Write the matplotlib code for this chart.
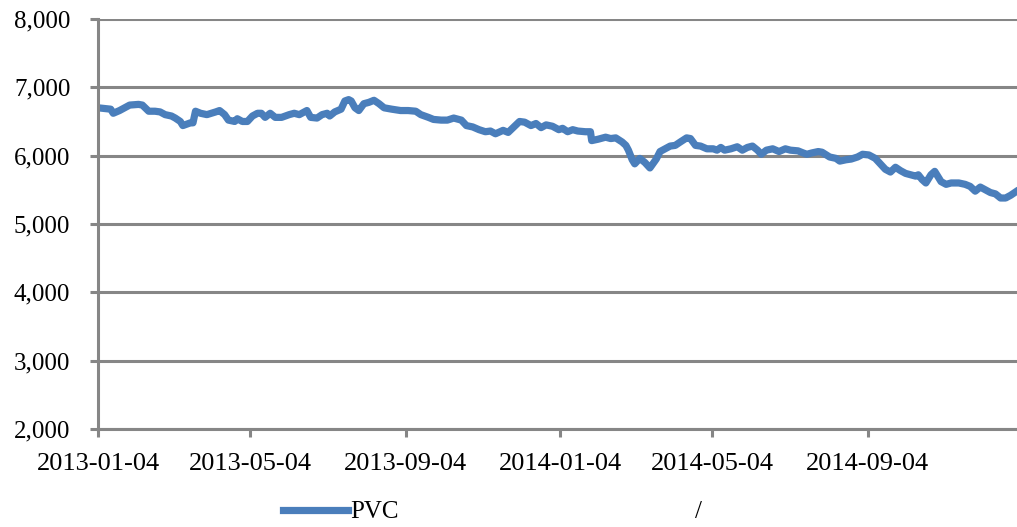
import numpy as np
import pandas as pd
import matplotlib
matplotlib.use("Agg")
import matplotlib.pyplot as plt
import matplotlib.dates as mdates
from matplotlib.ticker import FuncFormatter, MultipleLocator

plt.rcParams['font.family'] = ['Liberation Serif', 'DejaVu Serif']

dates = ['2013-01-04', '2013-01-14', '2013-01-16', '2013-01-21', '2013-01-25', '2013-01-29',
         '2013-02-05', '2013-02-08', '2013-02-13', '2013-02-18', '2013-02-22', '2013-02-26',
         '2013-03-03', '2013-03-06', '2013-03-10', '2013-03-12', '2013-03-18', '2013-03-20',
         '2013-03-22', '2013-03-26', '2013-03-31', '2013-04-07', '2013-04-10', '2013-04-14',
         '2013-04-17', '2013-04-22', '2013-04-24', '2013-04-28', '2013-05-02', '2013-05-06',
         '2013-05-10', '2013-05-13', '2013-05-16', '2013-05-20', '2013-05-24', '2013-05-29',
         '2013-06-04', '2013-06-08', '2013-06-12', '2013-06-16', '2013-06-18', '2013-06-21',
         '2013-06-26', '2013-06-30', '2013-07-04', '2013-07-06', '2013-07-10', '2013-07-15',
         '2013-07-18', '2013-07-21', '2013-07-23', '2013-07-26', '2013-07-29', '2013-08-02',
         '2013-08-06', '2013-08-10', '2013-08-14', '2013-08-18', '2013-08-24', '2013-08-31',
         '2013-09-06', '2013-09-12', '2013-09-16', '2013-09-22', '2013-09-26', '2013-10-02',
         '2013-10-07', '2013-10-12', '2013-10-18', '2013-10-22', '2013-10-27', '2013-11-01',
         '2013-11-06', '2013-11-10', '2013-11-14', '2013-11-20', '2013-11-24', '2013-12-03',
         '2013-12-07', '2013-12-12', '2013-12-16', '2013-12-20', '2013-12-24', '2013-12-29',
         '2014-01-03', '2014-01-06', '2014-01-10', '2014-01-14', '2014-01-18', '2014-01-24',
         '2014-01-28', '2014-01-29', '2014-02-03', '2014-02-09', '2014-02-13', '2014-02-17',
         '2014-02-22', '2014-02-25', '2014-02-27', '2014-03-02', '2014-03-04', '2014-03-08',
         '2014-03-12', '2014-03-16', '2014-03-21', '2014-03-24', '2014-03-28', '2014-04-01',
         '2014-04-05', '2014-04-09', '2014-04-14', '2014-04-17', '2014-04-21', '2014-04-25',
         '2014-04-30', '2014-05-05', '2014-05-08', '2014-05-11', '2014-05-14', '2014-05-19',
         '2014-05-24', '2014-05-28', '2014-06-01', '2014-06-05', '2014-06-09', '2014-06-12',
         '2014-06-16', '2014-06-21', '2014-06-26', '2014-07-01', '2014-07-05', '2014-07-11',
         '2014-07-15', '2014-07-18', '2014-07-22', '2014-07-27', '2014-07-30', '2014-08-05',
         '2014-08-10', '2014-08-13', '2014-08-18', '2014-08-22', '2014-08-27', '2014-08-31',
         '2014-09-05', '2014-09-10', '2014-09-14', '2014-09-18', '2014-09-22', '2014-09-26',
         '2014-09-30', '2014-10-04', '2014-10-08', '2014-10-12', '2014-10-14', '2014-10-17',
         '2014-10-20', '2014-10-24', '2014-10-27', '2014-11-01', '2014-11-05', '2014-11-09',
         '2014-11-15', '2014-11-20', '2014-11-24', '2014-11-28', '2014-12-02', '2014-12-06',
         '2014-12-10', '2014-12-14', '2014-12-18', '2014-12-22', '2014-12-26', '2014-12-30']

pvc = [6700, 6680, 6620, 6660, 6700, 6740,
       6750, 6740, 6650, 6650, 6640, 6600,
       6580, 6550, 6500, 6440, 6480, 6480,
       6650, 6620, 6600, 6640, 6660, 6600,
       6520, 6500, 6540, 6500, 6500, 6580,
       6620, 6620, 6560, 6620, 6560, 6560,
       6600, 6620, 6600, 6640, 6660, 6560,
       6550, 6600, 6620, 6580, 6640, 6680,
       6800, 6820, 6800, 6700, 6660, 6760,
       6780, 6810, 6760, 6700, 6680, 6660,
       6660, 6650, 6600, 6560, 6530, 6520,
       6520, 6550, 6520, 6440, 6420, 6380,
       6350, 6360, 6320, 6370, 6340, 6500,
       6490, 6440, 6470, 6410, 6450, 6430,
       6380, 6400, 6350, 6380, 6360, 6350,
       6350, 6220, 6240, 6270, 6250, 6260,
       6200, 6150, 6080, 5940, 5880, 5960,
       5900, 5820, 5950, 6060, 6100, 6140,
       6150, 6200, 6260, 6250, 6150, 6140,
       6100, 6100, 6080, 6120, 6080, 6100,
       6130, 6080, 6120, 6140, 6080, 6020,
       6080, 6100, 6060, 6100, 6080, 6070,
       6040, 6020, 6040, 6060, 6050, 5980,
       5960, 5920, 5940, 5950, 5980, 6020,
       6010, 5960, 5880, 5800, 5760, 5830,
       5780, 5740, 5720, 5700, 5720, 5650,
       5600, 5720, 5770, 5620, 5580, 5600,
       5600, 5580, 5550, 5480, 5540, 5500,
       5460, 5440, 5380, 5380, 5420, 5470]

x = pd.to_datetime(dates)

fig = plt.figure(figsize=(10.17, 5.27), dpi=100)
ax = fig.add_axes([0.0964, 0.186, 0.9036, 0.778])

grey = '#868686'
ax.plot(x, pvc, color='#4A7EBB', lw=5.2, solid_joinstyle='round', label='PVC')

ax.set_ylim(2000, 8000)
ax.set_xlim(pd.Timestamp('2013-01-04'), pd.Timestamp('2014-12-31'))
ax.yaxis.set_major_locator(MultipleLocator(1000))
ax.yaxis.set_major_formatter(FuncFormatter(lambda v, p: f'{int(v):,}'))
ax.xaxis.set_major_locator(mdates.MonthLocator(bymonth=[1, 5, 9], bymonthday=4))
ax.xaxis.set_major_formatter(mdates.DateFormatter('%Y-%m-%d'))

ax.grid(axis='y', color=grey, lw=2.2)
ax.set_axisbelow(True)
for s in ['top', 'right']:
    ax.spines[s].set_visible(False)
for s in ['left', 'bottom']:
    ax.spines[s].set_color(grey)
    ax.spines[s].set_linewidth(2.2)
ax.tick_params(axis='both', colors=grey, width=2.2, length=6, labelcolor='black')
ax.tick_params(axis='y', pad=14, labelsize=18)
ax.tick_params(axis='x', pad=11, labelsize=19)

fig.legend(loc='center left', bbox_to_anchor=(0.278, 0.028), frameon=False,
           fontsize=18, handlelength=2.6, handletextpad=0.1, borderpad=0, borderaxespad=0)
fig.text(0.683, 0.028, '/', fontsize=18, va='center', ha='left')

fig.savefig('out.png', dpi=100)
